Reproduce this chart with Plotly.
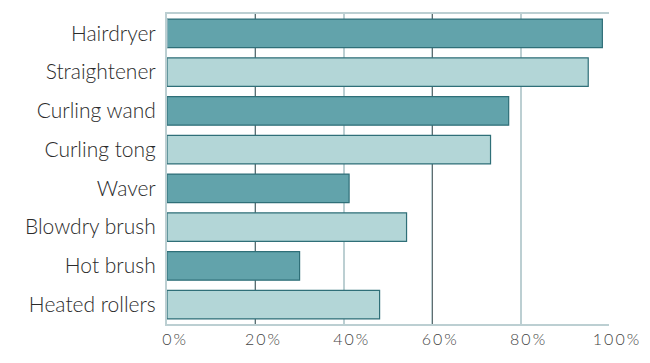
import plotly.graph_objects as go

categories = ["Hairdryer", "Straightener", "Curling wand", "Curling tong",
              "Waver", "Blowdry brush", "Hot brush", "Heated rollers"]
values = [98.5, 95.3, 77.3, 73.2, 41.2, 54.2, 30.0, 48.1]
dark_fill = "#62a3ab"
light_fill = "#b3d6d7"
fills = [dark_fill if i % 2 == 0 else light_fill for i in range(len(categories))]
tick_vals = [0, 20, 40, 60, 80, 100]
tick_text = ["0\u2009%", "2\u20090\u2009%", "4\u20090\u2009%", "6\u20090\u2009%",
             "8\u20090\u2009%", "1\u20090\u20090\u2009%"]
dark_grid_vals = [20, 60, 100]

fig = go.Figure()
fig.add_trace(go.Bar(
    x=values, y=categories, orientation="h",
    marker=dict(color=fills, line=dict(color="#2f6f78", width=1.2)),
    hoverinfo="x+y",
))
# invisible trace on overlay axis to carry darker gridlines
fig.add_trace(go.Bar(x=[0], y=[categories[0]], orientation="h", xaxis="x2",
                     marker=dict(color="rgba(0,0,0,0)"), showlegend=False,
                     hoverinfo="skip"))

fig.update_layout(
    width=650, height=363,
    margin=dict(l=167, r=41, t=14, b=39, autoexpand=False),
    paper_bgcolor="white", plot_bgcolor="white",
    showlegend=False,
    bargap=0.26,
    barmode="overlay",
    font=dict(family="Lato, 'Noto Sans', sans-serif", color="#2b2b2b"),
    xaxis=dict(range=[0, 100], tickvals=tick_vals, ticktext=tick_text,
               showgrid=True, gridcolor="#bccfd2", gridwidth=1.5,
               showline=True, linecolor="#bccfd2", linewidth=2, mirror=True,
               ticks="", zeroline=False, automargin=False,
               tickfont=dict(size=16, color="#444444", weight=300),
               ticklabelstandoff=0, ticklabelshift=7),
    xaxis2=dict(range=[0, 100], overlaying="x", side="bottom",
                tickvals=dark_grid_vals, showticklabels=False,
                showgrid=True, gridcolor="#5f6d70", gridwidth=1,
                showline=False, zeroline=False, ticks="", automargin=False),
    yaxis=dict(categoryorder="array", categoryarray=categories,
               autorange="reversed", showgrid=False, automargin=False,
               showline=True, linecolor="#bccfd2", linewidth=2,
               ticks="", tickfont=dict(size=21, color="#2b2b2b", weight=300),
               ticklabelstandoff=5),
)

fig.write_html("out.html",
               config={"displayModeBar": False},
               post_script="document.body.style.margin='0';"
                           "document.body.style.overflow='hidden';")
